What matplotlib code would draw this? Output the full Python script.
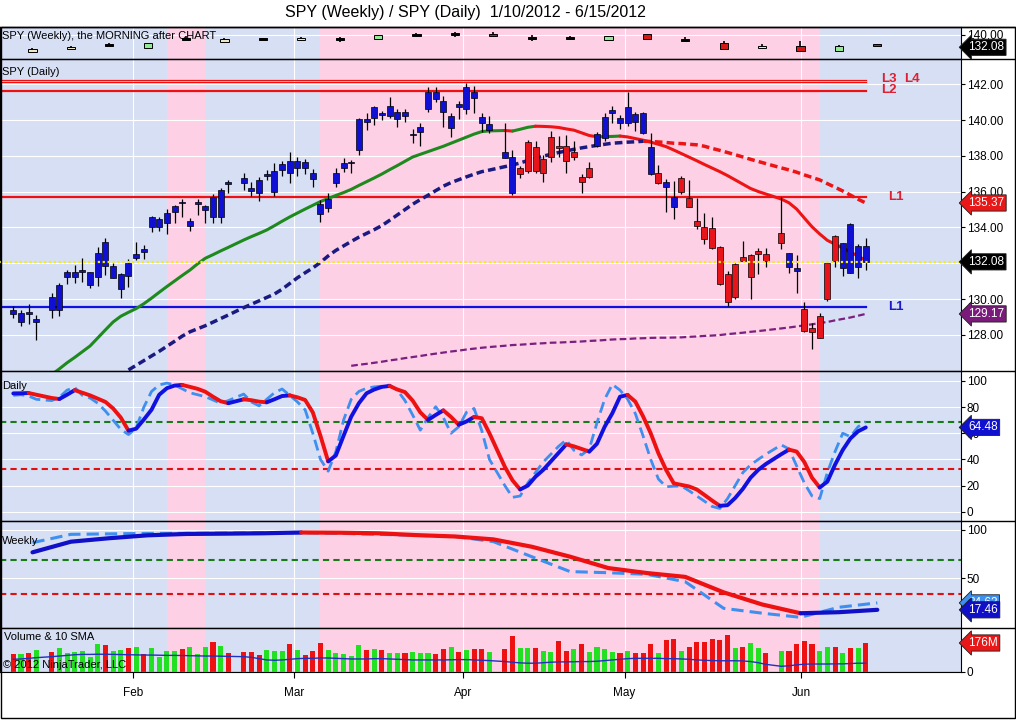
import numpy as np
import pandas as pd
import matplotlib
matplotlib.use("Agg")
import matplotlib.pyplot as plt
from matplotlib.lines import Line2D
from matplotlib.patches import Rectangle

plt.rcParams["font.family"] = ["Liberation Sans", "DejaVu Sans"]

start = "2012-01-10"
holidays = ["2012-01-16", "2012-02-20", "2012-04-06", "2012-05-28"]
days = pd.bdate_range(start, "2012-06-13")
days = days[~days.isin(pd.to_datetime(holidays))]
fridays = pd.date_range("2012-01-13", "2012-06-15", freq="W-FRI")
month_starts = ["2012-02-01", "2012-03-01", "2012-04-02", "2012-05-01", "2012-06-01"]
month_names = ["Feb", "Mar", "Apr", "May", "Jun"]

# daily SPY, Jan..Jun
opens = [129.39, 128.74, 129.28, 128.70, 130.10, 129.39, 131.25, 131.25, 131.50, 130.79, 131.25, 133.17, 131.16, 130.55, 132.03,
         132.31, 132.80, 134.01, 134.01, 134.23, 134.88, 135.44, 134.10, 135.31, 134.98, 135.72, 134.57, 136.52, 136.75, 136.22, 136.65, 136.89, 136.00, 137.21, 137.71,
         137.31, 137.67, 137.03, 135.31, 135.07, 136.50, 137.31, 137.59, 138.33, 140.04, 140.10, 140.38, 140.23, 140.04, 140.44, 139.17, 139.35, 140.60, 141.59, 141.07, 139.58, 140.90,
         140.60, 141.59, 140.16, 139.45, 138.23, 137.92, 136.97, 137.16, 138.48, 137.03, 137.92, 138.57, 138.57, 137.95, 136.80, 136.84, 138.55, 138.98, 140.38, 140.10,
         139.85, 140.34, 140.41, 138.51, 136.47, 136.52, 135.68, 136.00, 135.63, 134.36, 134.04, 133.95, 132.89, 131.38, 130.13, 132.33, 131.25, 132.50, 132.52, 133.15, 132.56, 131.75,
         129.43, 128.40, 127.84, 129.99, 133.52, 131.72, 134.19, 131.81, 132.97]
highs = [129.63, 129.39, 129.72, 129.11, 130.32, 130.88, 131.63, 131.90, 132.28, 131.53, 132.93, 133.40, 132.00, 131.44, 132.22,
         133.21, 133.02, 134.64, 134.57, 135.02, 135.26, 135.58, 134.51, 135.58, 135.26, 135.85, 136.19, 136.65, 137.06, 136.56, 136.84, 137.21, 137.59, 137.71, 138.23,
         137.95, 137.81, 137.25, 135.54, 135.91, 137.31, 137.90, 137.77, 140.10, 140.41, 140.79, 140.51, 141.27, 140.60, 140.62, 139.50, 139.85, 141.83, 141.83, 141.35, 140.41, 141.08,
         142.09, 141.90, 140.38, 140.23, 139.85, 138.33, 137.44, 138.89, 138.83, 138.05, 139.39, 139.11, 139.17, 138.83, 136.97, 137.68, 139.32, 140.38, 140.79, 140.28,
         141.59, 140.44, 140.47, 139.26, 137.49, 136.69, 136.60, 136.86, 136.65, 135.63, 134.83, 134.60, 132.98, 131.59, 132.03, 133.26, 132.52, 132.84, 132.84, 135.72, 132.59, 132.46,
         129.85, 128.68, 129.24, 132.03, 133.58, 133.15, 134.27, 133.06, 133.40]
lows = [128.96, 128.51, 128.59, 127.71, 128.93, 129.07, 130.83, 130.92, 130.97, 130.60, 130.75, 131.35, 131.16, 130.04, 130.69,
        132.18, 132.22, 133.77, 133.82, 133.64, 134.27, 134.57, 133.82, 134.70, 134.23, 134.27, 134.27, 135.94, 136.09, 135.78, 135.50, 136.65, 135.76, 136.89, 136.50,
        136.89, 136.97, 136.24, 134.32, 134.88, 136.24, 137.12, 137.06, 138.05, 139.45, 139.73, 140.01, 140.13, 139.63, 139.91, 138.74, 138.55, 140.47, 141.03, 139.63, 139.07, 140.04,
        140.32, 140.41, 139.35, 139.26, 137.87, 135.81, 136.75, 137.03, 137.03, 136.56, 137.68, 137.95, 137.06, 137.77, 135.94, 136.75, 138.51, 138.83, 139.85, 139.49,
        139.67, 139.39, 139.21, 136.93, 136.41, 134.88, 134.47, 135.87, 135.12, 133.90, 133.06, 132.80, 130.79, 129.61, 129.99, 132.13, 129.99, 131.40, 131.77, 132.78, 131.47, 130.36,
        128.18, 127.19, 127.81, 129.91, 131.77, 131.29, 131.44, 131.16, 131.63]
closes = [129.15, 129.20, 129.19, 128.89, 129.39, 130.79, 131.50, 131.53, 131.63, 131.50, 132.56, 131.87, 131.85, 131.38, 131.31,
          132.52, 132.65, 134.57, 134.47, 134.79, 135.20, 135.39, 134.36, 135.44, 135.20, 134.57, 136.09, 136.41, 136.47, 136.04, 135.94, 136.99, 137.16, 137.53, 137.03,
          137.71, 137.31, 136.71, 134.74, 135.59, 137.03, 137.59, 137.64, 140.04, 139.88, 140.71, 140.29, 140.80, 140.44, 140.23, 139.22, 139.63, 141.59, 141.16, 140.44, 140.23, 140.75,
          141.83, 141.22, 139.82, 139.78, 137.90, 135.91, 137.31, 138.76, 137.16, 137.81, 139.07, 138.46, 137.71, 138.23, 136.52, 137.31, 139.22, 140.16, 140.56, 139.85,
          140.71, 139.91, 139.26, 136.97, 137.06, 136.28, 135.13, 136.75, 135.16, 134.10, 133.34, 132.84, 130.83, 129.82, 131.94, 132.14, 132.46, 132.69, 132.14, 133.71, 131.81, 131.57,
          128.23, 128.18, 129.05, 132.00, 132.13, 133.12, 131.47, 132.97, 132.08]
# paint bar trend colour, b = up trend, r = down trend
paint = "b" * 63 + "r" * 10 + "b" * 8 + "r" + "b" * 2 + "r" * 13 + "b" * 2 + "r" * 5 + "b" * 4

nan = np.nan
ma_fast = [nan] * 4 + [
    125.78, 126.10, 126.44, 126.74, 127.06, 127.38, 127.83, 128.28, 128.72, 129.04, 129.26,
    129.47, 129.74, 130.05, 130.38, 130.70, 131.01, 131.32, 131.62, 131.97, 132.28, 132.48, 132.69, 132.89, 133.30, 133.49, 133.67, 133.86, 134.10, 134.35, 134.59,
    134.81, 135.03, 135.24, 135.45, 135.62, 135.79, 135.95, 136.13, 136.35, 136.56, 136.77, 136.99, 137.23, 137.46, 137.70, 137.94, 138.09, 138.24, 138.39, 138.54, 138.71, 138.88,
    139.05, 139.22, 139.36, 139.40, 139.42, 139.39, 139.49, 139.60, 139.66, 139.65, 139.63, 139.59, 139.51, 139.44, 139.29, 139.14, 139.07, 139.08, 139.09, 139.11,
    139.06, 138.97, 138.88, 138.77, 138.65, 138.52, 138.33, 138.13, 137.93, 137.73, 137.52, 137.32, 137.12, 136.90, 136.66, 136.42, 136.18, 136.01, 135.87, 135.59, 135.38, 135.03,
    134.53, 134.04, 133.64, 133.28, 133.07, 132.85, 132.63, 132.40, 132.16]
ma_mid = [nan] * 14 + [
    126.04,
    126.30, 126.56, 126.82, 127.08, 127.36, 127.64, 127.93, 128.17, 128.34, 128.51, 128.71, 128.91, 129.11, 129.52, 129.71, 129.90, 130.09, 130.28, 130.55, 130.87,
    131.19, 131.47, 131.74, 132.05, 132.41, 132.72, 132.97, 133.22, 133.46, 133.67, 133.88, 134.11, 134.40, 134.70, 135.00, 135.30, 135.56, 135.80, 136.06, 136.31, 136.51, 136.67,
    136.83, 136.98, 137.12, 137.21, 137.40, 137.49, 137.61, 137.74, 137.86, 137.99, 138.09, 138.19, 138.28, 138.37, 138.45, 138.52, 138.59, 138.65, 138.71, 138.74,
    138.77, 138.79, 138.82, 138.81, 138.78, 138.75, 138.71, 138.69, 138.65, 138.62, 138.54, 138.42, 138.31, 138.19, 138.07, 137.94, 137.81, 137.69, 137.57, 137.33, 137.22, 137.09,
    136.94, 136.80, 136.66, 136.45, 136.25, 136.04, 135.81, 135.58, 135.37]
ma_slow = [nan] * 42 + [
    126.27, 126.33, 126.38, 126.44, 126.50, 126.57, 126.63, 126.70, 126.76, 126.82, 126.89, 126.95, 127.01, 127.07, 127.12,
    127.18, 127.23, 127.28, 127.32, 127.39, 127.43, 127.45, 127.48, 127.51, 127.53, 127.56, 127.57, 127.59, 127.61, 127.63, 127.66, 127.68, 127.71, 127.74, 127.76,
    127.77, 127.80, 127.81, 127.83, 127.84, 127.84, 127.85, 127.86, 127.89, 127.91, 127.94, 127.96, 127.99, 128.04, 128.08, 128.12, 128.17, 128.21, 128.26, 128.36, 128.41, 128.47,
    128.53, 128.59, 128.66, 128.72, 128.81, 128.89, 128.97, 129.07, 129.17]
levels_red = [135.72, 141.63, 142.11, 142.22]
level_blue = 129.56

stoch_d = [90.5, 90.6, 90.8, 89.5, 87.0, 86.2, 89.5, 93.0, 91.0, 89.0, 86.5, 84.0, 79.0, 72.0, 62.0,
           63.5, 70.5, 78.0, 89.5, 94.5, 96.5, 97.0, 95.5, 94.0, 91.8, 88.0, 84.5, 83.0, 86.0, 85.3, 84.2, 83.7, 86.0, 88.5, 89.0,
           87.5, 85.5, 76.0, 58.0, 38.5, 43.0, 58.0, 72.7, 83.0, 90.6, 93.5, 95.5, 96.2, 93.5, 91.5, 85.0, 76.0, 70.2, 74.0, 77.5, 72.5, 66.5,
           69.0, 72.5, 71.5, 60.0, 34.4, 24.0, 17.0, 20.0, 26.8, 32.0, 38.5, 45.0, 51.5, 50.0, 48.0, 46.0, 52.0, 65.0, 75.3, 88.0,
           89.3, 84.2, 73.0, 60.0, 44.7, 32.0, 21.7, 20.5, 19.3, 17.0, 12.8, 8.5, 4.5, 5.0, 10.5, 17.5, 26.0, 32.0, 36.5, 44.0, 47.5, 46.0,
           38.0, 26.0, 18.5, 23.0, 36.0, 47.2, 56.0, 61.5, 64.48]
stoch_k = [89, 89.5, 88.5, 86, 85, 87.5, 93, 95, 89, 87, 83, 77, 70, 63, 59,
           64, 80, 92, 97, 98.4, 97, 94, 91, 89.5, 88, 85.5, 83, 85, 90, 84, 81, 86, 91, 93.9, 89,
           84, 78, 60, 40, 31, 46, 70, 86, 92, 94.5, 95.5, 96, 96.9, 93, 85, 74, 62.4, 72, 80.3, 72, 60, 65,
           76, 79, 62, 40, 20, 11, 12, 22, 30, 38, 44, 50, 54.9, 47, 43.4, 48, 68, 86, 97.4, 93,
           86, 75, 58, 40, 25, 19.1, 19.5, 19.6, 16, 12, 8, 4, 2.5, 10, 20, 30, 35.8, 40, 44, 51.1, 48, 35,
           22, 12, 10, 30, 46, 60, 57.4, 65, 68.9]

volume = [108, 108, 115, 133, 119, 143, 116, 119, 129, 92, 170, 164, 129, 133, 143,
          150, 108, 143, 92, 127, 127, 139, 150, 108, 150, 180, 159, 113, 119, 119, 102, 133, 129, 129, 170,
          133, 102, 129, 174, 133, 113, 108, 96, 164, 133, 139, 133, 113, 116, 113, 123, 116, 113, 108, 139, 150, 123,
          133, 137, 139, 123, 139, 221, 147, 147, 147, 127, 119, 190, 127, 137, 170, 123, 153, 137, 119, 113,
          129, 113, 116, 170, 116, 194, 200, 129, 150, 182, 184, 199, 194, 225, 143, 150, 174, 143, 113, 127, 127, 170,
          190, 170, 127, 150, 150, 116, 143, 143, 176]
volume_sma = [76, 78, 82, 86, 92, 96, 100, 104, 106, 106, 107, 107, 106, 105, 104,
              103, 102, 102, 101, 100, 100, 99, 98, 97, 96, 96, 95, 94, 92, 88, 80, 72, 70, 72, 76,
              80, 82, 82, 84, 84, 82, 80, 78, 78, 78, 80, 80, 78, 76, 74, 72, 72, 72, 72, 72, 73, 74,
              74, 72, 70, 68, 62, 58, 54, 52, 52, 55, 58, 60, 60, 61, 62, 62, 64, 68, 72, 76,
              80, 82, 82, 82, 82, 80, 80, 78, 76, 72, 70, 68, 67, 67, 67, 66, 62, 55, 45, 33, 36, 42,
              46, 47, 47, 47, 48, 48, 50, 52, 52]

# weekly SPY as drawn in the top strip
wk_open = [129.2, 131.0, 133.6, 131.4, 137.9, 135.7, 137.9, 136.6, 137.4, 137.4, 140.2, 140.6, 140.6, 138.5, 138.3, 137.0, 140.4, 137.4, 134.7, 131.4, 133.1, 129.7, 134.2]
wk_high = [131.4, 133.1, 134.7, 134.7, 139.5, 137.9, 137.9, 138.7, 138.7, 140.0, 141.1, 141.7, 142.1, 140.0, 139.2, 139.5, 140.9, 138.5, 136.1, 134.0, 136.3, 133.6, 134.2]
wk_low = [129.2, 131.0, 132.7, 131.4, 136.6, 135.7, 136.6, 136.6, 135.3, 137.4, 139.2, 138.7, 139.2, 136.3, 136.6, 137.0, 137.6, 135.3, 131.0, 131.4, 129.5, 129.7, 133.1]
wk_close = [130.8, 132.5, 132.7, 134.7, 136.6, 137.2, 136.6, 138.1, 136.6, 140.0, 139.2, 139.8, 139.2, 137.2, 137.4, 139.5, 137.6, 136.3, 131.0, 133.1, 129.5, 133.1, 133.1]
wk_kind = "ppkgkpkpkgkkrkkgrkrprgr"
wk_bg = "bbbbpbbbpppppppppppppbb"
wk_stoch_d = [76.9, 87.9, 91.5, 94.5, 95.9, 96.2, 96.6, 97.4, 97.2, 96.6, 94.7, 93.3, 90.3, 82.7, 72.4, 60.6, 55.5, 51.5, 35.5, 23.0, 13.9, 15.0, 17.46]
wk_stoch_k = [86.9, 95.5, 96.0, 96.5, 96.5, 96.8, 97.0, 97.2, 96.5, 95.5, 94.5, 93.3, 88.0, 72.4, 57.0, 55.8, 54.2, 46.5, 19.0, 14.0, 9.7, 20.1, 24.63]

BLUE_BG = "#d6dff4"
PINK_BG = "#fdd0e6"
CANDLE_BLUE = "#1010d4"
CANDLE_RED = "#e8141c"
W, H = 1016, 720

# weekday axis: weekends squeezed out, holidays left as gaps
x = np.busday_count(start, days.values.astype("datetime64[D]"))
wx = np.busday_count(start, fridays.values.astype("datetime64[D]")) - 0.5
mx = np.busday_count(start, pd.to_datetime(month_starts).values.astype("datetime64[D]")) - 0.4
XL = (-1.73, 123.4)

fig = plt.figure(figsize=(W / 100, H / 100), dpi=100)


def panel(top, bottom, ylim):
    ax = fig.add_axes([0, 1 - bottom / H, 961 / W, (bottom - top) / H])
    ax.set_facecolor(BLUE_BG)
    for k, bg in enumerate(wk_bg):
        if bg == "p":
            ax.axvspan(wx[k] - 2.5, wx[k] + 2.5, color=PINK_BG, lw=0, zorder=0.2)
    ax.set_xlim(*XL)
    ax.set_ylim(*ylim)
    ax.set_xticks(mx)
    ax.tick_params(axis="x", length=0, labelbottom=False)
    ax.yaxis.tick_right()
    ax.tick_params(axis="y", direction="out", length=3, pad=1, labelsize=8.5, width=0.8)
    ax.grid(True, color="white", lw=0.8)
    ax.set_axisbelow(True)
    for s in ax.spines.values():
        s.set_linewidth(0.8)
    return ax


def trend_line(ax, xs, ys, up, down, **kw):
    xs = np.asarray(xs, float)
    ys = np.asarray(ys, float)
    ok = ~np.isnan(ys)
    xs, ys = xs[ok], ys[ok]
    rising = np.diff(ys) >= 0
    s = 0
    for j in range(1, len(rising) + 1):
        if j == len(rising) or rising[j] != rising[s]:
            ax.plot(xs[s:j + 1], ys[s:j + 1], color=up if rising[s] else down, **kw)
            s = j


def tag(ax, y, text, color):
    ax.annotate(text, xy=(1, y), xycoords=("axes fraction", "data"), xytext=(5, 0),
                textcoords="offset points", ha="left", va="center", color="white",
                fontsize=8.5, annotation_clip=False, zorder=20,
                bbox=dict(boxstyle="larrow,pad=0.18", fc=color, ec="#202020", lw=0.6))


def label(ax, text, y):
    ax.text(0.002, y, text, transform=ax.transAxes, fontsize=8, va="top", ha="left")


o, h, l, c = map(np.array, (opens, highs, lows, closes))

# weekly candles strip
ax_w = panel(27, 59.3, (124.35, 145.15))
kind_col = {"p": "#eee6c4", "k": "black", "g": "#92ea92", "r": "#d81818"}
ax_w.vlines(wx, wk_low, wk_high, color="black", lw=1.2, zorder=4)
wo, wc = np.array(wk_open), np.array(wk_close)
ax_w.bar(wx, np.maximum(abs(wc - wo), 1.3), bottom=np.minimum(wo, wc), width=1.05,
         color=[kind_col[k] for k in wk_kind], edgecolor="black", lw=0.7, zorder=5)
ax_w.set_yticks([140])
ax_w.set_yticklabels(["140.00"])
label(ax_w, "SPY (Weekly), the MORNING after CHART", 0.88)
tag(ax_w, c[-1], f"{c[-1]:.2f}", "black")

# daily price panel
ax_p = panel(59.3, 371, (125.98, 143.40))
trend_line(ax_p, x, ma_fast, "#1e8a1e", "#ee1414", lw=2.2, zorder=3, solid_capstyle="round")
trend_line(ax_p, x, ma_mid, "#1a1a80", "#ee1414", lw=2.5, ls=(0, (2.2, 1.2)), zorder=3)
ax_p.plot(x, ma_slow, color="#7a2080", lw=1.6, ls=(0, (3, 1.5)), zorder=3)
for lv, lw in zip(levels_red, [1.6, 1.6, 0.9, 0.9]):
    ax_p.plot([XL[0], x[-1]], [lv, lv], color="#ee1111", lw=lw, zorder=2)
ax_p.plot([XL[0], x[-1]], [level_blue, level_blue], color="#1010e0", lw=1.6, zorder=2)
ax_p.vlines(x, l, h, color="black", lw=0.9, zorder=4)
ax_p.bar(x, np.maximum(abs(c - o), 0.05), bottom=np.minimum(o, c), width=0.78,
         color=[CANDLE_BLUE if p == "b" else CANDLE_RED for p in paint],
         edgecolor="black", lw=0.5, zorder=5)
ax_p.axhline(c[-1], color="#f4ee10", lw=1.6, ls=(0, (1, 1.2)), zorder=6)
ax_p.set_yticks(np.arange(128, 143, 2))
ax_p.set_yticklabels([f"{v:.2f}" for v in np.arange(128, 143, 2)])
lx = x[-1] + 2.9
ax_p.text(lx, levels_red[0], "L1", color="#e02030", fontsize=9.5, fontweight="bold", va="center")
ax_p.text(lx - 0.9, 142.28, "L3", color="#e02030", fontsize=9.5, fontweight="bold", va="center")
ax_p.text(lx + 2.1, 142.28, "L4", color="#e02030", fontsize=9.5, fontweight="bold", va="center")
ax_p.text(lx - 0.9, 141.66, "L2", color="#e02030", fontsize=9.5, fontweight="bold", va="center")
ax_p.text(lx, level_blue, "L1", color="#1a1acc", fontsize=9.5, fontweight="bold", va="center")
label(ax_p, "SPY (Daily)", 0.975)
tag(ax_p, ma_mid[-1], f"{ma_mid[-1]:.2f}", "#e81818")
tag(ax_p, c[-1], f"{c[-1]:.2f}", "black")
tag(ax_p, ma_slow[-1], f"{ma_slow[-1]:.2f}", "#7a1a7a")

# daily stochastics
ax_s = panel(371, 521, (-7.12, 107.65))
ax_s.axhline(69, color="#1a7a1a", lw=1.5, ls=(0, (3, 2)), zorder=2)
ax_s.axhline(33, color="#e01010", lw=1.5, ls=(0, (3, 2)), zorder=2)
ax_s.plot(x, stoch_k, color="#3d8ff0", lw=2, ls=(0, (4, 2)), zorder=3)
trend_line(ax_s, x, stoch_d, "#1010e0", "#ee1111", lw=2.8, zorder=4, solid_capstyle="round")
ax_s.set_yticks([0, 20, 40, 60, 80, 100])
label(ax_s, "Daily", 0.93)
tag(ax_s, stoch_d[-1], f"{stoch_d[-1]:.2f}", "#1010d0")

# weekly stochastics
ax_ws = panel(521, 628, (-1.34, 109.3))
ax_ws.axhline(69, color="#1a7a1a", lw=1.5, ls=(0, (3, 2)), zorder=2)
ax_ws.axhline(34, color="#e01010", lw=1.5, ls=(0, (3, 2)), zorder=2)
ax_ws.plot(wx, wk_stoch_k, color="#3d8ff0", lw=2.2, ls=(0, (4, 2)), zorder=3)
trend_line(ax_ws, wx, wk_stoch_d, "#1010c8", "#ee1111", lw=3, zorder=4, solid_capstyle="round")
ax_ws.set_yticks([50, 100])
label(ax_ws, "Weekly", 0.86)
tag(ax_ws, wk_stoch_k[-1], f"{wk_stoch_k[-1]:.2f}", "#3d8ff0")
tag(ax_ws, wk_stoch_d[-1], f"{wk_stoch_d[-1]:.2f}", "#1010c8")

# volume
ax_v = panel(628, 672, (-2, 268))
vol = np.array(volume)
ax_v.bar(x, vol, width=0.66, color=np.where(c >= o, "#22e022", "#ee1111"), lw=0, zorder=3)
ax_v.plot(x, volume_sma, color="#2030c0", lw=1, zorder=4)
ax_v.axhline(0, color="#909090", lw=1, zorder=4)
ax_v.set_yticks([0])
ax_v.set_xticks(mx)
ax_v.set_xticklabels(month_names)
ax_v.tick_params(axis="x", length=4, pad=7, labelbottom=True, labelsize=8.5)
ax_v.text(0.004, 0.8, "Volume & 10 SMA", transform=ax_v.transAxes, fontsize=8, va="center")
ax_v.text(0.003, 0.15, "\u00a9 2012 NinjaTrader, LLC", transform=ax_v.transAxes, fontsize=8, va="center")
tag(ax_v, vol[-1], f"{vol[-1]:.0f}M", "#e81818")

for yy in [27, 59.3, 371, 521, 628]:
    fig.add_artist(Line2D([0, 1015 / W], [1 - yy / H] * 2, color="black", lw=1))
fig.add_artist(Rectangle((0.5 / W, 1 - 718 / H), 1014.5 / W, 691 / H, fill=False, ec="black", lw=1))
fig.text(465 / W, 1 - 13 / H, "SPY (Weekly) / SPY (Daily)  1/10/2012 - 6/15/2012",
         ha="center", va="center", fontsize=11.5)

fig.savefig("out.png", dpi=100)
